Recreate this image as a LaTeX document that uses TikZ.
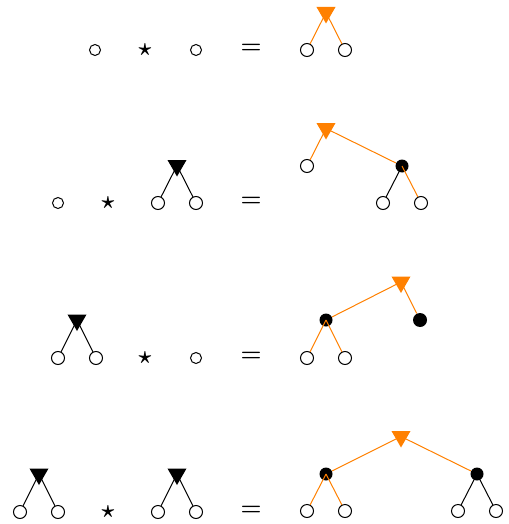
\documentclass[tikz,border=0pt]{standalone}
\usepackage{amsmath}
\usetikzlibrary{shapes.geometric}
\definecolor{accent}{RGB}{255,128,0}
\tikzset{
  leaf/.style={
    circle, draw, fill=white, line width=0.5pt,
    inner sep=0pt, minimum size=6.5pt
  },
  atom/.style={circle, draw, line width=0.5pt, inner sep=0pt, minimum size=5.5pt},
  knot/.style={circle, fill=black, inner sep=0pt, minimum size=6.5pt},
  root/.style={
    regular polygon, regular polygon sides=3, shape border rotate=180,
    fill=black, inner sep=0pt, minimum size=11pt
  },
  oroot/.style={root, fill=accent},
  edge/.style={line width=0.5pt, draw=black},
  oedge/.style={edge, draw=accent},
  op/.style={inner sep=0pt, font=\boldmath}
}

\begin{document}
\begin{tikzpicture}[x=0.5pt, y=-0.5pt]
  \useasboundingbox (0,0) rectangle (508,524);
  % first row
  \node[atom] (a1) at (95,50) {};
  \node[op] (s1) at (145,50) {\large$\star$};
  \node[atom] (b1) at (196,50) {};
  \node[op] (e1) at (251,49) {\large$=$};
  \node[oroot] (r1) at (326,12.5) {};
  \node[leaf] (r1l) at (307,50) {};
  \node[leaf] (r1r) at (345,50) {};
  \draw[oedge] (r1.center) -- (r1l);
  \draw[oedge] (r1.center) -- (r1r);

  % second row
  \node[atom] (a2) at (58,203) {};
  \node[op] (s2) at (108,203) {\large$\star$};
  \node[root] (t2) at (177,165.5) {};
  \node[leaf] (t2l) at (158,203) {};
  \node[leaf] (t2r) at (196,203) {};
  \node[op] (e2) at (251,202) {\large$=$};
  \node[oroot] (r2) at (326,128.5) {};
  \node[leaf] (r2l) at (307,166) {};
  \node[knot] (k2) at (402,166) {};
  \node[leaf] (k2l) at (383,203) {};
  \node[leaf] (k2r) at (421,203) {};
  \draw[edge] (t2.center) -- (t2l);
  \draw[edge] (t2.center) -- (t2r);
  \draw[oedge] (r2.center) -- (r2l);
  \draw[oedge] (r2.center) -- (k2);
  \draw[edge] (k2.center) -- (k2l);
  \draw[oedge] (k2.center) -- (k2r);

  % third row
  \node[root] (t3) at (77,320) {};
  \node[leaf] (t3l) at (58,358) {};
  \node[leaf] (t3r) at (96,358) {};
  \node[op] (s3) at (145,358) {\large$\star$};
  \node[atom] (b3) at (196,358) {};
  \node[op] (e3) at (251,357) {\large$=$};
  \node[oroot] (r3) at (401,282) {};
  \node[knot] (k3) at (326,320) {};
  \node[knot, minimum size=7pt] (k3r) at (420,320) {};
  \node[leaf] (k3l1) at (307,358) {};
  \node[leaf] (k3l2) at (345,358) {};
  \draw[edge] (t3.center) -- (t3l);
  \draw[edge] (t3.center) -- (t3r);
  \draw[oedge] (r3.center) -- (k3);
  \draw[oedge] (r3.center) -- (k3r);
  \draw[oedge] (k3.center) -- (k3l1);
  \draw[oedge] (k3.center) -- (k3l2);

  % fourth row
  \node[root] (t4) at (39,474) {};
  \node[leaf] (t4l) at (20,512) {};
  \node[leaf] (t4r) at (58,512) {};
  \node[op] (s4) at (108,512) {\large$\star$};
  \node[root] (u4) at (177,474) {};
  \node[leaf] (u4l) at (158,512) {};
  \node[leaf] (u4r) at (196,512) {};
  \node[op] (e4) at (251,511) {\large$=$};
  \node[oroot] (r4) at (401,436.5) {};
  \node[knot] (k4) at (326,474) {};
  \node[knot] (m4) at (477,474) {};
  \node[leaf] (k4l) at (307,511) {};
  \node[leaf] (k4r) at (345,511) {};
  \node[leaf] (m4l) at (458,511) {};
  \node[leaf] (m4r) at (496,511) {};
  \draw[edge] (t4.center) -- (t4l);
  \draw[edge] (t4.center) -- (t4r);
  \draw[edge] (u4.center) -- (u4l);
  \draw[edge] (u4.center) -- (u4r);
  \draw[oedge] (r4.center) -- (k4);
  \draw[oedge] (r4.center) -- (m4);
  \draw[oedge] (k4.center) -- (k4l);
  \draw[oedge] (k4.center) -- (k4r);
  \draw[edge] (m4.center) -- (m4l);
  \draw[edge] (m4.center) -- (m4r);
\end{tikzpicture}
\end{document}
